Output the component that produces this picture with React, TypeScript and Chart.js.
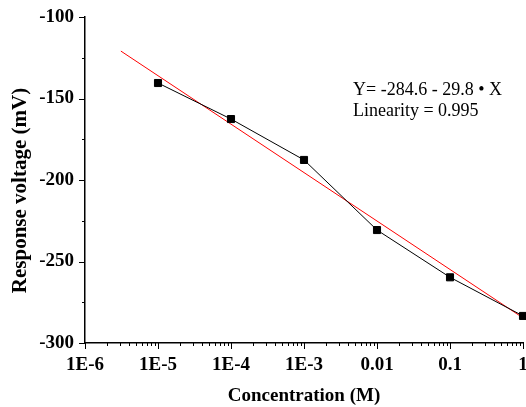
import React, { useEffect, useRef } from "react";
import { Chart, registerables } from "chart.js";

Chart.register(...registerables);

// ---- data ----
const concentrations = [1e-5, 1e-4, 1e-3, 1e-2, 1e-1, 1];
const responseVoltage = [-140.5, -162.6, -187.7, -230.7, -259.7, -283.4];
const fitX = [3.1e-6, 1];
const fitY = [-120.9, -284.6];
const xTickValues = [1e-6, 1e-5, 1e-4, 1e-3, 1e-2, 1e-1, 1];
const xTickLabels = ["1E-6", "1E-5", "1E-4", "1E-3", "0.01", "0.1", "1"];
const yTickValues = [-300, -250, -200, -150, -100];
const yMinorTickValues = [-275, -225, -175, -125];
const equationLines = ["Y= -284.6 - 29.8 \u2022 X", "Linearity = 0.995"];

const FONT = '"Liberation Serif", "Times New Roman", serif';

const decorPlugin = {
  id: "decor",
  afterDraw(chart: any) {
    const { ctx, chartArea, scales } = chart;
    const xs = scales.x;
    const ys = scales.y;
    ctx.save();
    ctx.strokeStyle = "#000";
    ctx.lineWidth = 1;
    ctx.beginPath();
    // x ticks (major decades + minor 2..9)
    for (let i = 0; i < xTickValues.length; i++) {
      const base = xTickValues[i];
      for (let k = 1; k <= 9; k++) {
        const v = base * k;
        if (v > xTickValues[xTickValues.length - 1] * 1.0001) break;
        const px = Math.round(xs.getPixelForValue(v)) + 0.5;
        const len = k === 1 ? 6 : 3;
        ctx.moveTo(px, chartArea.bottom);
        ctx.lineTo(px, chartArea.bottom + len);
      }
    }
    for (const v of yTickValues) {
      const py = Math.round(ys.getPixelForValue(v)) + 0.5;
      ctx.moveTo(chartArea.left, py);
      ctx.lineTo(chartArea.left - 6, py);
    }
    for (const v of yMinorTickValues) {
      const py = Math.round(ys.getPixelForValue(v)) + 0.5;
      ctx.moveTo(chartArea.left, py);
      ctx.lineTo(chartArea.left - 3, py);
    }
    ctx.stroke();

    // equation annotation
    ctx.fillStyle = "#000";
    ctx.font = `18px ${FONT}`;
    ctx.textAlign = "left";
    ctx.textBaseline = "alphabetic";
    const tx = chartArea.left + 268;
    const ty = chartArea.top + 78;
    equationLines.forEach((line, i) => ctx.fillText(line, tx, ty + i * 21));
    ctx.restore();
  },
};

export default function App() {
  const ref = useRef<HTMLCanvasElement | null>(null);

  useEffect(() => {
    if (!ref.current) return;
    const chart = new Chart(ref.current, {
      type: "line",
      data: {
        datasets: [
          {
            label: "Response",
            data: concentrations.map((x, i) => ({ x, y: responseVoltage[i] })),
            borderColor: "#000",
            borderWidth: 1,
            pointStyle: "rect",
            pointRadius: 5,
            pointBackgroundColor: "#000",
            pointBorderColor: "#000",
            pointBorderWidth: 1,
            tension: 0,
            clip: false as any,
          },
          {
            label: "Fit",
            data: fitX.map((x, i) => ({ x, y: fitY[i] })),
            borderColor: "#ff0000",
            borderWidth: 1,
            pointRadius: 0,
            tension: 0,
            clip: false as any,
          },
        ],
      },
      options: {
        animation: false,
        responsive: true,
        maintainAspectRatio: false,
        layout: { padding: { top: 17, right: 0, left: 0, bottom: 0 } },
        plugins: {
          legend: { display: false },
          tooltip: { enabled: false },
        },
        scales: {
          x: {
            type: "logarithmic",
            min: 1e-6,
            max: 1,
            grid: { display: false, drawTicks: false },
            border: { display: true, color: "#000", width: 1.5 },
            afterBuildTicks: (scale: any) => {
              scale.ticks = xTickValues.map((v) => ({ value: v, major: true }));
            },
            afterFit: (scale: any) => {
              scale.height = 64;
              scale.paddingLeft = 0;
              scale.paddingRight = 0;
            },
            ticks: {
              autoSkip: false,
              maxRotation: 0,
              padding: 11,
              color: "#000",
              font: { family: FONT, size: 19, weight: "bold" },
              callback: (value: any) => {
                const idx = xTickValues.findIndex((v) => Math.abs(v - Number(value)) / v < 1e-6);
                return idx >= 0 ? xTickLabels[idx] : "";
              },
            },
            title: {
              display: true,
              text: "Concentration (M)",
              color: "#000",
              font: { family: FONT, size: 19, weight: "bold" },
              padding: { top: 0, bottom: 0 },
            },
          },
          y: {
            type: "linear",
            min: -300,
            max: -100,
            grid: { display: false, drawTicks: false },
            border: { display: true, color: "#000", width: 1.5 },
            afterBuildTicks: (scale: any) => {
              scale.ticks = yTickValues.map((v) => ({ value: v }));
            },
            afterFit: (scale: any) => {
              scale.width = 85;
              scale.paddingTop = 0;
              scale.paddingBottom = 0;
            },
            ticks: {
              padding: 11,
              color: "#000",
              font: { family: FONT, size: 19, weight: "bold" },
              callback: (value: any) => String(value),
            },
            title: {
              display: true,
              text: "Response voltage (mV)    ",
              color: "#000",
              font: { family: FONT, size: 21, weight: "bold" },
              padding: { top: 8, bottom: 0 },
            },
          },
        },
      },
      plugins: [decorPlugin],
    });
    return () => chart.destroy();
  }, []);

  return (
    <div style={{ position: "absolute", left: 0, top: 0, width: 526, height: 407, overflow: "hidden", background: "#fff" }}>
      <div style={{ position: "relative", width: 529, height: 407 }}>
        <canvas ref={ref} />
      </div>
    </div>
  );
}
